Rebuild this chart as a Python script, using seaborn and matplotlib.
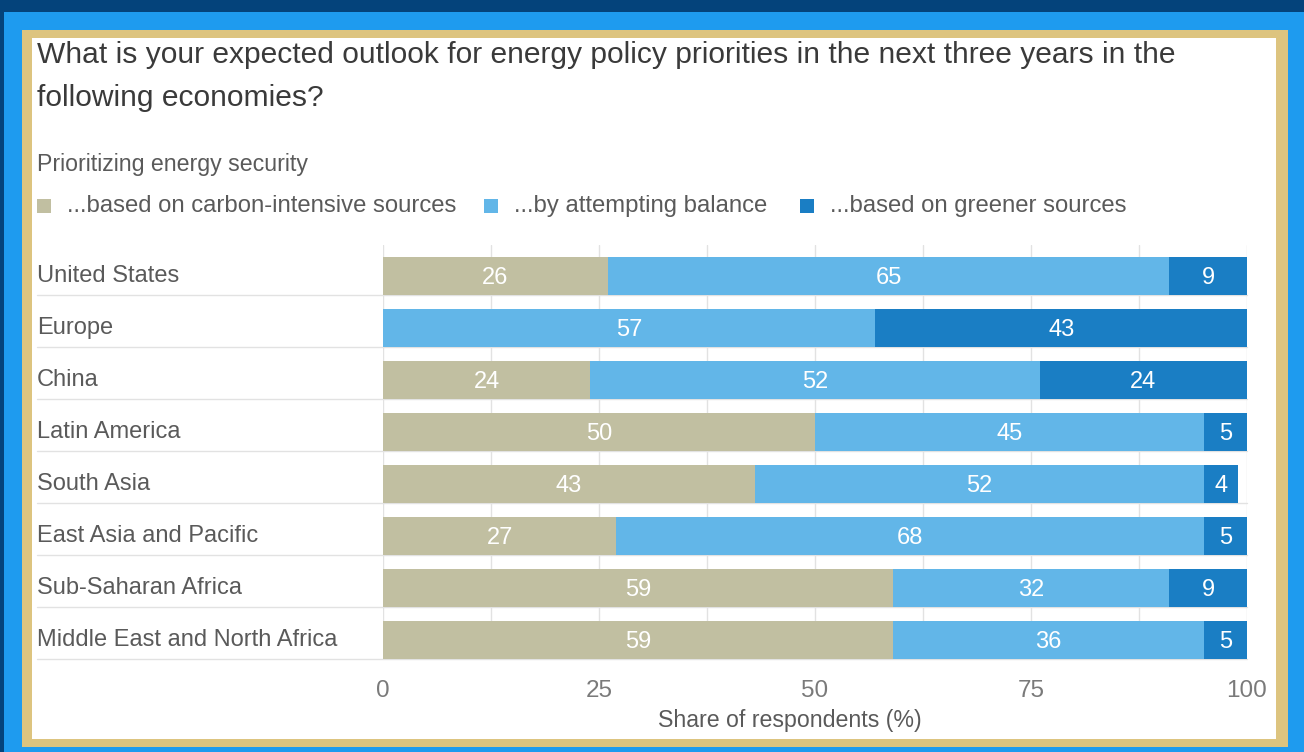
import numpy as np
import pandas as pd
import matplotlib
matplotlib.use("Agg")
import matplotlib.pyplot as plt
import matplotlib.transforms as mtransforms
from matplotlib.patches import Rectangle
import seaborn as sns

# ---- data -------------------------------------------------------------
regions = ["United States", "Europe", "China", "Latin America", "South Asia",
           "East Asia and Pacific", "Sub-Saharan Africa",
           "Middle East and North Africa"]
carbon = [26, 0, 24, 50, 43, 27, 59, 59]
balance = [65, 57, 52, 45, 52, 68, 32, 36]
greener = [9, 43, 24, 5, 4, 5, 9, 5]
series_names = ["...based on carbon-intensive sources",
                "...by attempting balance",
                "...based on greener sources"]
x_ticks = [0, 25, 50, 75, 100]

title_text = ("What is your expected outlook for energy policy priorities in the "
              "next three years in the\nfollowing economies?")
subtitle_text = "Prioritizing energy security"
xlabel_text = "Share of respondents (%)"

# ---- style ------------------------------------------------------------
sns.set_theme(style="white")
plt.rcParams["font.family"] = ["Liberation Sans", "DejaVu Sans"]

C_CARBON = "#C1BFA1"
C_BALANCE = "#62B6E8"
C_GREEN = "#1A7EC4"
colors = [C_CARBON, C_BALANCE, C_GREEN]
TXT_DARK = "#3A3A3A"
TXT_MID = "#5A5A5A"
TXT_LIGHT = "#7A7A7A"
GRID = "#E2E2E2"

W, H = 1304, 752
fig = plt.figure(figsize=(W / 100, H / 100), dpi=100)
fig.patch.set_facecolor("#1E9BEF")


def fx(px):
    return px / W


def fy(py):
    return 1 - py / H


def frame_rect(x0, y0, x1, y1, color):
    fig.patches.append(Rectangle((fx(x0), fy(y1)), fx(x1) - fx(x0), fy(y0) - fy(y1),
                                 transform=fig.transFigure, facecolor=color,
                                 edgecolor="none", zorder=-10))


# decorative frame: navy band, gold border, white panel
frame_rect(0, 0, W, 12, "#04437B")
frame_rect(0, 0, 4, H, "#04437B")
frame_rect(22, 30, 1288, 747, "#DDC47F")
frame_rect(32, 38, 1276, 739, "#FFFFFF")

# ---- axes -------------------------------------------------------------
ax_left, ax_right, ax_top, ax_bottom = 383, 1247, 245, 659
ax = fig.add_axes([fx(ax_left), fy(ax_bottom), fx(ax_right) - fx(ax_left),
                   fy(ax_top) - fy(ax_bottom)])
ax.set_facecolor("none")

df = pd.DataFrame({"region": regions, "carbon": carbon,
                   "balance": balance, "greener": greener})
df["cum1"] = df["carbon"]
df["cum2"] = df["carbon"] + df["balance"]
df["cum3"] = df["cum2"] + df["greener"]

bar_w = 0.73
# stacked bars drawn back to front from cumulative totals
for col, c in zip(["cum3", "cum2", "cum1"], [C_GREEN, C_BALANCE, C_CARBON]):
    sns.barplot(data=df, x=col, y="region", orient="h", color=c,
                saturation=1, width=bar_w, errorbar=None, linewidth=0,
                ax=ax, zorder=2)

ax.set_xlim(0, 100)
ax.set_ylim(len(regions) - 1 + bar_w / 2, -0.6)
ax.set_xlabel("")
ax.set_ylabel("")
ax.set_yticks([])
for s in ax.spines.values():
    s.set_visible(False)

grid_pos = np.arange(0, 100.01, 12.5)
ax.set_xticks(grid_pos)
ax.set_xticklabels([f"{int(v)}" if v in x_ticks else "" for v in grid_pos])
ax.tick_params(axis="x", length=5, width=1, color=GRID, colors=TXT_LIGHT,
               labelsize=17.5, pad=10)
ax.xaxis.grid(True, color=GRID, linewidth=1)
ax.set_axisbelow(True)
for lbl in ax.get_xticklabels():
    lbl.set_color(TXT_LIGHT)

ax.set_xlabel(xlabel_text, fontsize=16.7, color=TXT_MID)
ax.xaxis.set_label_coords((790 - ax_left) / (ax_right - ax_left),
                          -(720 - ax_bottom) / (ax_bottom - ax_top))
ax.xaxis.label.set_va("center")

# row separators running under the region names and bars
sep_tr = mtransforms.blended_transform_factory(ax.transAxes, ax.transData)
x_start = (37 - ax_left) / (ax_right - ax_left)
for i in range(len(regions)):
    ax.plot([x_start, 1], [i + bar_w / 2] * 2, color=GRID, linewidth=1,
            transform=sep_tr, clip_on=False, zorder=1)

# region names
name_tr = mtransforms.blended_transform_factory(fig.transFigure, ax.transData)
for i, r in enumerate(regions):
    ax.text(fx(37), i, r, transform=name_tr, ha="left", va="center",
            fontsize=17, color=TXT_MID)

# value labels inside segments
for i in range(len(regions)):
    left = 0
    for v in (carbon[i], balance[i], greener[i]):
        if v > 0:
            ax.text(left + v / 2, i + 0.03, f"{v}", ha="center", va="center",
                    fontsize=17, color="white", zorder=5)
        left += v

# ---- titles and legend --------------------------------------------------
title_lines = title_text.split("\n")
fig.text(fx(37), fy(55), title_lines[0], ha="left", va="center",
         fontsize=21.6, color=TXT_DARK)
fig.text(fx(37), fy(98), title_lines[1], ha="left", va="center",
         fontsize=21.6, color=TXT_DARK)
fig.text(fx(37), fy(164), subtitle_text, ha="left", va="center",
         fontsize=16.7, color=TXT_MID)

legend_x = [37, 484, 800]
for lx, name, c in zip(legend_x, series_names, colors):
    fig.patches.append(Rectangle((fx(lx), fy(213)), fx(14), 14 / H,
                                 transform=fig.transFigure, facecolor=c,
                                 edgecolor="none"))
    fig.text(fx(lx + 30), fy(206), name, ha="left", va="center",
             fontsize=17.2, color=TXT_MID)

fig.savefig("out.png", dpi=100, facecolor=fig.get_facecolor())
